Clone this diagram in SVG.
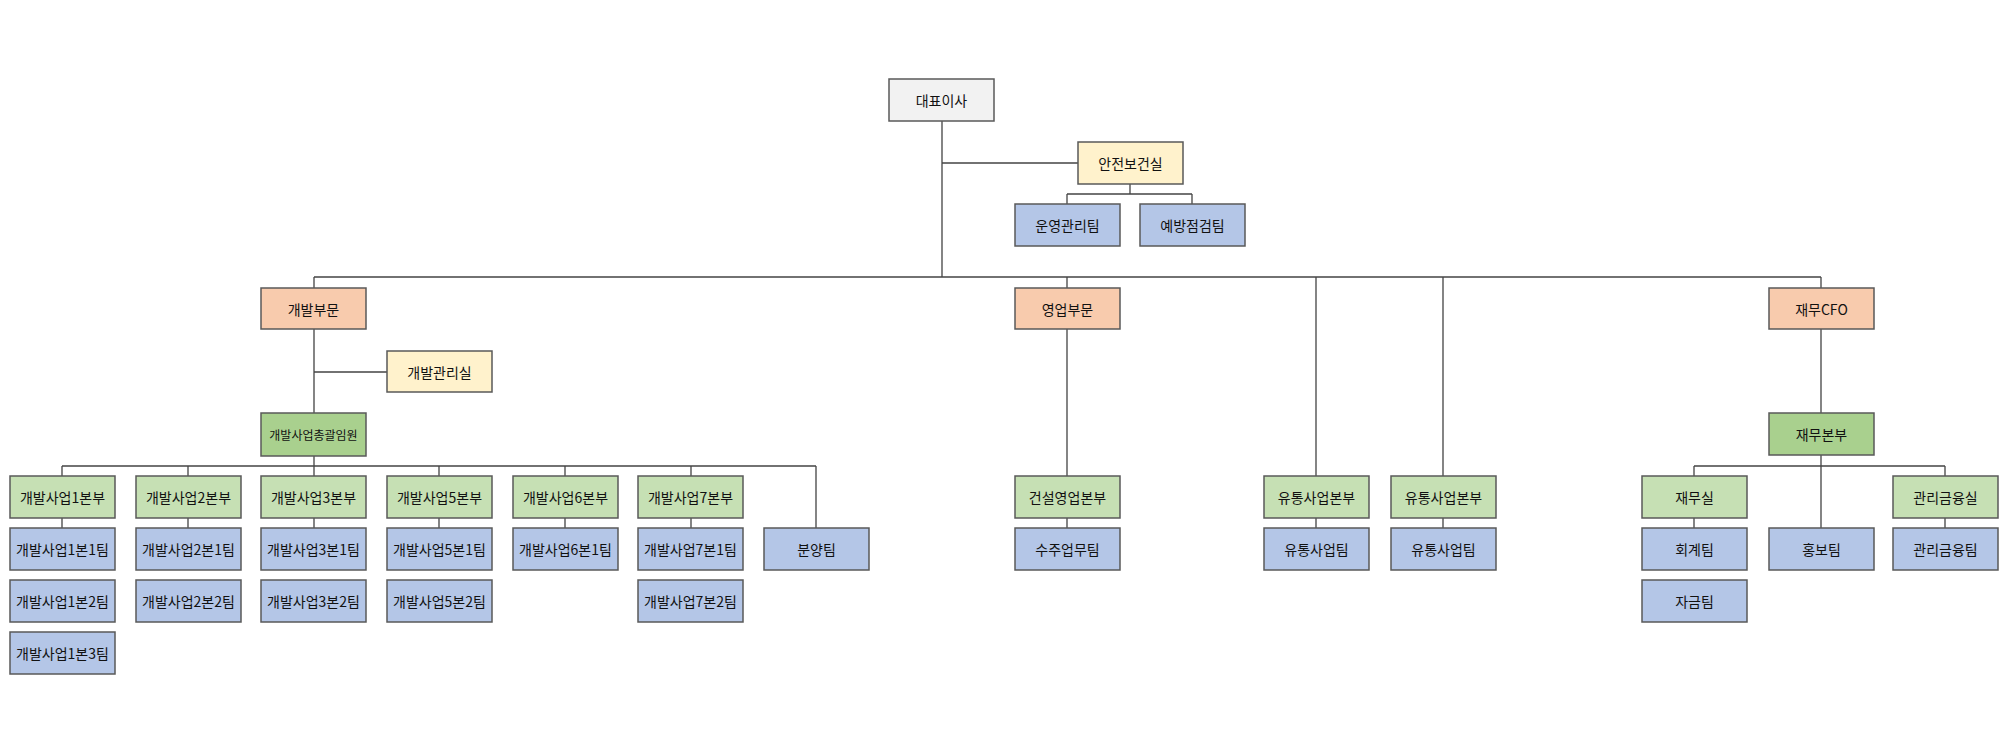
<svg xmlns="http://www.w3.org/2000/svg" width="2009" height="754" viewBox="0 0 2009 754">
<style>
rect{stroke:#595959;stroke-width:1.5}
.g{fill:#f2f2f2}.y{fill:#fff2cc}.o{fill:#f8cbad}.d{fill:#a9d08e}.l{fill:#c6e0b4}.b{fill:#b4c6e7}
text{font-family:"Noto Sans CJK KR","Noto Sans",sans-serif;font-size:14px;fill:#111;text-anchor:middle;dominant-baseline:central}
.s{font-size:12px}
#c path{stroke:#444;stroke-width:1.3;fill:none}
</style>
<rect width="2009" height="754" fill="#fff" style="stroke:none"/>
<g id="c"><path d="M942 121V277M942 163H1078M1130 184V194M1067 194H1192M1067 194V204M1192 194V204M314 277H1821M314 277V288M1067 277V476M1316 277V476M1443 277V476M1821 277V288M314 329V413M314 372H387M314 456V466M62 466H816M62 466V476M188 466V476M314 466V476M439 466V476M565 466V476M691 466V476M816 466V528M62 518V528M188 518V528M314 518V528M439 518V528M565 518V528M691 518V528M1067 518V528M1316 518V528M1443 518V528M1694 518V528M1945 518V528M1821 329V413M1821 455V528M1694 466H1945M1694 466V476M1945 466V476"/></g>
<g id="n1"><rect class="g" x="889" y="79" width="105" height="42"/><text x="941.5" y="100">대표이사</text></g>
<g id="n2"><rect class="y" x="1078" y="142" width="105" height="42"/><text x="1130.5" y="163">안전보건실</text></g>
<g id="n3"><rect class="b" x="1015" y="204" width="105" height="42"/><text x="1067.5" y="225">운영관리팀</text></g>
<g id="n4"><rect class="b" x="1140" y="204" width="105" height="42"/><text x="1192.5" y="225">예방점검팀</text></g>
<g id="n5"><rect class="o" x="261" y="288" width="105" height="41"/><text x="313.5" y="308.5">개발부문</text></g>
<g id="n6"><rect class="y" x="387" y="351" width="105" height="41"/><text x="439.5" y="371.5">개발관리실</text></g>
<g id="n7"><rect class="d" x="261" y="413" width="105" height="43"/><text class="s" x="313.5" y="434.5">개발사업총괄임원</text></g>
<g id="n8"><rect class="l" x="10" y="476" width="105" height="42"/><text x="62.5" y="497">개발사업1본부</text></g>
<g id="n9"><rect class="l" x="136" y="476" width="105" height="42"/><text x="188.5" y="497">개발사업2본부</text></g>
<g id="n10"><rect class="l" x="261" y="476" width="105" height="42"/><text x="313.5" y="497">개발사업3본부</text></g>
<g id="n11"><rect class="l" x="387" y="476" width="105" height="42"/><text x="439.5" y="497">개발사업5본부</text></g>
<g id="n12"><rect class="l" x="513" y="476" width="105" height="42"/><text x="565.5" y="497">개발사업6본부</text></g>
<g id="n13"><rect class="l" x="638" y="476" width="105" height="42"/><text x="690.5" y="497">개발사업7본부</text></g>
<g id="n14"><rect class="b" x="10" y="528" width="105" height="42"/><text x="62.5" y="549">개발사업1본1팀</text></g>
<g id="n15"><rect class="b" x="10" y="580" width="105" height="42"/><text x="62.5" y="601">개발사업1본2팀</text></g>
<g id="n16"><rect class="b" x="10" y="632" width="105" height="42"/><text x="62.5" y="653">개발사업1본3팀</text></g>
<g id="n17"><rect class="b" x="136" y="528" width="105" height="42"/><text x="188.5" y="549">개발사업2본1팀</text></g>
<g id="n18"><rect class="b" x="136" y="580" width="105" height="42"/><text x="188.5" y="601">개발사업2본2팀</text></g>
<g id="n19"><rect class="b" x="261" y="528" width="105" height="42"/><text x="313.5" y="549">개발사업3본1팀</text></g>
<g id="n20"><rect class="b" x="261" y="580" width="105" height="42"/><text x="313.5" y="601">개발사업3본2팀</text></g>
<g id="n21"><rect class="b" x="387" y="528" width="105" height="42"/><text x="439.5" y="549">개발사업5본1팀</text></g>
<g id="n22"><rect class="b" x="387" y="580" width="105" height="42"/><text x="439.5" y="601">개발사업5본2팀</text></g>
<g id="n23"><rect class="b" x="513" y="528" width="105" height="42"/><text x="565.5" y="549">개발사업6본1팀</text></g>
<g id="n24"><rect class="b" x="638" y="528" width="105" height="42"/><text x="690.5" y="549">개발사업7본1팀</text></g>
<g id="n25"><rect class="b" x="638" y="580" width="105" height="42"/><text x="690.5" y="601">개발사업7본2팀</text></g>
<g id="n26"><rect class="b" x="764" y="528" width="105" height="42"/><text x="816.5" y="549">분양팀</text></g>
<g id="n27"><rect class="o" x="1015" y="288" width="105" height="41"/><text x="1067.5" y="308.5">영업부문</text></g>
<g id="n28"><rect class="l" x="1015" y="476" width="105" height="42"/><text x="1067.5" y="497">건설영업본부</text></g>
<g id="n29"><rect class="b" x="1015" y="528" width="105" height="42"/><text x="1067.5" y="549">수주업무팀</text></g>
<g id="n30"><rect class="l" x="1264" y="476" width="105" height="42"/><text x="1316.5" y="497">유통사업본부</text></g>
<g id="n31"><rect class="b" x="1264" y="528" width="105" height="42"/><text x="1316.5" y="549">유통사업팀</text></g>
<g id="n32"><rect class="l" x="1391" y="476" width="105" height="42"/><text x="1443.5" y="497">유통사업본부</text></g>
<g id="n33"><rect class="b" x="1391" y="528" width="105" height="42"/><text x="1443.5" y="549">유통사업팀</text></g>
<g id="n34"><rect class="o" x="1769" y="288" width="105" height="41"/><text x="1821.5" y="308.5">재무CFO</text></g>
<g id="n35"><rect class="d" x="1769" y="413" width="105" height="42"/><text x="1821.5" y="434">재무본부</text></g>
<g id="n36"><rect class="l" x="1642" y="476" width="105" height="42"/><text x="1694.5" y="497">재무실</text></g>
<g id="n37"><rect class="b" x="1642" y="528" width="105" height="42"/><text x="1694.5" y="549">회계팀</text></g>
<g id="n38"><rect class="b" x="1642" y="580" width="105" height="42"/><text x="1694.5" y="601">자금팀</text></g>
<g id="n39"><rect class="b" x="1769" y="528" width="105" height="42"/><text x="1821.5" y="549">홍보팀</text></g>
<g id="n40"><rect class="l" x="1893" y="476" width="105" height="42"/><text x="1945.5" y="497">관리금융실</text></g>
<g id="n41"><rect class="b" x="1893" y="528" width="105" height="42"/><text x="1945.5" y="549">관리금융팀</text></g>
</svg>
